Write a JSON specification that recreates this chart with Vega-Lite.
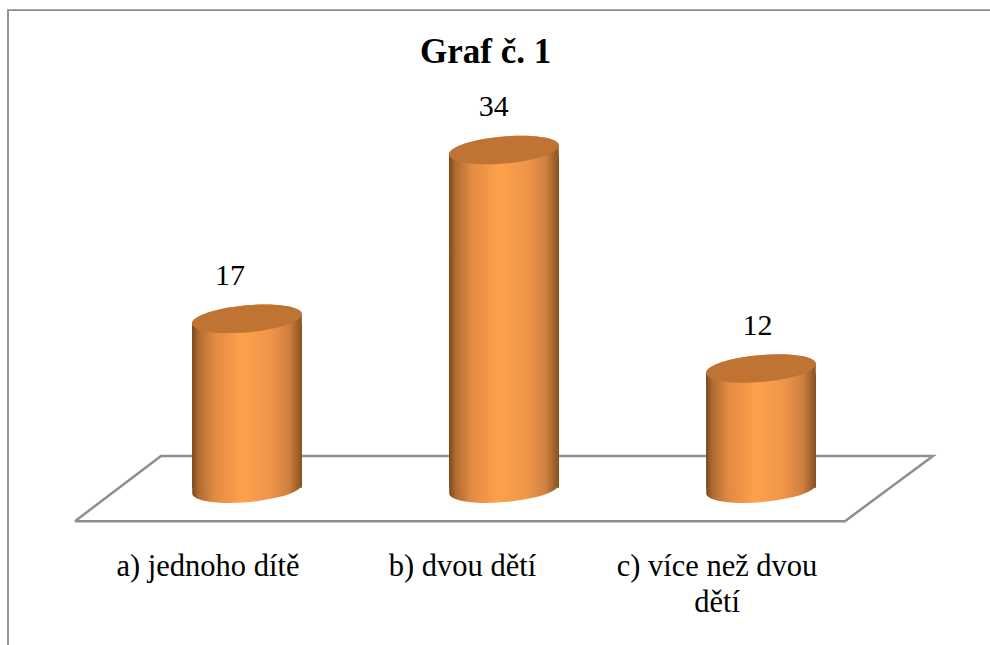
{
"$schema":"https://vega.github.io/schema/vega-lite/v6.json",
"width":990,"height":540,
"autosize":{"type":"none"},
"padding":{"left":0,"top":0,"right":0,"bottom":105},
"background":"white",
"config":{"view":{"stroke":null},"font":"Liberation Serif"},
"datasets":{
"bars":[{"kat":"a) jednoho dítě","popis":"a) jednoho dítě","pocet":17},{"kat":"b) dvou dětí","popis":"b) dvou dětí","pocet":34},{"kat":"c) více než dvou dětí","popis":"c) více než dvou\ndětí","pocet":12}],
"floor":[{"o":1,"fx":75,"fy":-3.37},{"o":2,"fx":845,"fy":-3.37},{"o":3,"fx":933,"fy":3.19},{"o":4,"fx":161,"fy":3.19},{"o":5,"fx":75,"fy":-3.37}],
"frame":[{"o":1,"fx":8,"fy":-15.85},{"o":2,"fx":8,"fy":48.1},{"o":3,"fx":990,"fy":48.1}]
},
"layer":[
{"data":{"name":"frame"},"mark":{"type":"line","color":"#8c8c8c","strokeWidth":1.8,"clip":false},
"encoding":{"x":{"field":"fx","type":"quantitative","scale":{"domain":[0,990],"nice":false,"zero":false},"axis":null},"y":{"field":"fy","type":"quantitative","scale":{"domain":[-5.27,49.11],"nice":false,"zero":false},"axis":null},"order":{"field":"o"}}},
{"data":{"name":"floor"},"mark":{"type":"line","color":"#8f8f8f","strokeWidth":2.5,"clip":false},
"encoding":{"x":{"field":"fx","type":"quantitative","scale":{"domain":[0,990],"nice":false,"zero":false},"axis":null},"y":{"field":"fy","type":"quantitative","scale":{"domain":[-5.27,49.11],"nice":false,"zero":false},"axis":null},"order":{"field":"o"}}},
{"data":{"name":"bars"},
"encoding":{"x":{"field":"kat","type":"nominal","sort":null,"scale":{"range":[118.5,889.5],"paddingInner":0,"paddingOuter":0},"axis":null}},
"layer":[
{"mark":{"type":"point","filled":true,"opacity":1,"size":12100,"yOffset":1,"shape":"M-0.996,0.087A1,0.24,-5,1,0,0.996,-0.087L0.996,-0.3L-0.996,-0.3Z","fill":{"gradient":"linear","x1":0,"x2":1,"y1":0,"y2":0,"stops":[{"offset":0,"color":"#7a4a20"},{"offset":0.06,"color":"#b06c30"},{"offset":0.2,"color":"#e08a42"},{"offset":0.45,"color":"#ffa04b"},{"offset":0.7,"color":"#f0964a"},{"offset":0.88,"color":"#d08040"},{"offset":1,"color":"#86521f"}]}},
"encoding":{"y":{"datum":0,"type":"quantitative","scale":{"domain":[-5.27,49.11],"nice":false,"zero":false},"axis":null}}},
{"mark":{"type":"bar","size":110,"yOffset":5,"y2Offset":0,"fill":{"gradient":"linear","x1":0,"x2":1,"y1":0,"y2":0,"stops":[{"offset":0,"color":"#7a4a20"},{"offset":0.06,"color":"#b06c30"},{"offset":0.2,"color":"#e08a42"},{"offset":0.45,"color":"#ffa04b"},{"offset":0.7,"color":"#f0964a"},{"offset":0.88,"color":"#d08040"},{"offset":1,"color":"#86521f"}]}},
"encoding":{"y":{"field":"pocet","type":"quantitative","scale":{"domain":[-5.27,49.11],"nice":false,"zero":false},"axis":null},"y2":{"datum":0}}},
{"mark":{"type":"point","filled":true,"opacity":1,"size":12100,"shape":"M-0.996,0.087A1,0.24,-5,1,1,0.996,-0.087L0.996,0.1L-0.996,0.1Z","fill":{"gradient":"linear","x1":0,"x2":1,"y1":0,"y2":0,"stops":[{"offset":0,"color":"#7a4a20"},{"offset":0.06,"color":"#b06c30"},{"offset":0.2,"color":"#e08a42"},{"offset":0.45,"color":"#ffa04b"},{"offset":0.7,"color":"#f0964a"},{"offset":0.88,"color":"#d08040"},{"offset":1,"color":"#86521f"}]}},
"encoding":{"y":{"field":"pocet","type":"quantitative","scale":{"domain":[-5.27,49.11],"nice":false,"zero":false},"axis":null}}},
{"mark":{"type":"point","filled":true,"opacity":1,"size":12100,"shape":"M-0.996,0.087A1,0.24,-5,1,1,0.996,-0.087A1,0.24,-5,1,1,-0.996,0.087Z","fill":"#bf7434"},
"encoding":{"y":{"field":"pocet","type":"quantitative","scale":{"domain":[-5.27,49.11],"nice":false,"zero":false},"axis":null}}}
]},
{"data":{"name":"bars"},
"mark":{"type":"text","font":"Liberation Serif","fontSize":30,"color":"#000000","dy":-43,"baseline":"middle","align":"center"},
"encoding":{"x":{"field":"kat","type":"nominal","sort":null,"scale":{"range":[98.25,889.25],"paddingInner":0,"paddingOuter":0},"axis":null},
"y":{"field":"pocet","type":"quantitative","scale":{"domain":[-5.27,49.11],"nice":false,"zero":false},"axis":null},"text":{"field":"pocet","type":"quantitative"}}},
{"data":{"name":"bars"},
"mark":{"type":"text","font":"Liberation Serif","fontSize":30.5,"color":"#000000","baseline":"top","align":"center","lineBreak":"\n","lineHeight":36,"clip":false},
"encoding":{"x":{"field":"kat","type":"nominal","sort":null,"scale":{"range":[80.75,844.25],"paddingInner":0,"paddingOuter":0},"axis":null},
"y":{"datum":-6.5,"type":"quantitative","scale":{"domain":[-5.27,49.11],"nice":false,"zero":false},"axis":null},"text":{"field":"popis","type":"nominal"}}}
],
"resolve":{"scale":{"x":"independent"},"axis":{"x":"independent"}},
"title":{"text":"Graf č. 1","font":"Liberation Serif","fontSize":35,"fontWeight":"bold","color":"#000000","anchor":"start","offset":-70,"dx":420,"frame":"group"}
}
